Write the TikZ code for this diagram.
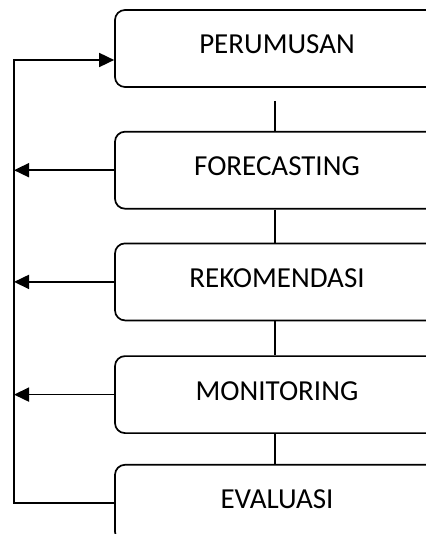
\documentclass[tikz,border=0pt]{standalone}
\usepackage{fontspec}
\setmainfont{Carlito}
\usetikzlibrary{arrows.meta,positioning}

\begin{document}
\begin{tikzpicture}[
  x=1pt, y=1pt,
  font=\fontsize{29}{33}\selectfont,
  >={Triangle[length=15pt, width=14pt]},
  stage/.style={rectangle, rounded corners=10pt, draw=black, line width=1.7pt,
                minimum width=324pt, minimum height=77pt, text depth=8pt, inner sep=0pt},
  link/.style={line width=1.2pt, draw=black},
  back/.style={line width=1.7pt, draw=black},
]
\useasboundingbox (0,0) rectangle (425,-534);

% stages
\node[stage] (rumus) at (277,-48.5) {PERUMUSAN};
\node[stage, below=43pt of rumus] (ramal) {FORECASTING};
\node[stage, below=33pt of ramal] (rekom) {REKOMENDASI};
\node[stage, below=34pt of rekom] (monit) {MONITORING};
\node[stage, below=30pt of monit] (evalu) {EVALUASI};

% links between stages
\draw[link] ([xshift=-2pt,yshift=-13pt]rumus.south) -- ([xshift=-2pt]ramal.north);
\draw[link] ([xshift=-2pt]ramal.south) -- ([xshift=-2pt]rekom.north);
\draw[link] ([xshift=-2pt]rekom.south) -- ([xshift=-2pt]monit.north);
\draw[link] ([xshift=-2pt]monit.south) -- ([xshift=-2pt]evalu.north);

% feedback rail on the left
\coordinate (rail) at (14,0);
\draw[back, ->] (ramal.west) -- (ramal.west -| rail);
\draw[back, ->] (rekom.west) -- (rekom.west -| rail);
\draw[back, ->] (monit.west) -- (monit.west -| rail);
\draw[back, ->] (evalu.west) -- (evalu.west -| rail)
  -- ([yshift=-11.5pt]rumus.west -| rail) -- ([yshift=-11.5pt]rumus.west);

\end{tikzpicture}
\end{document}
